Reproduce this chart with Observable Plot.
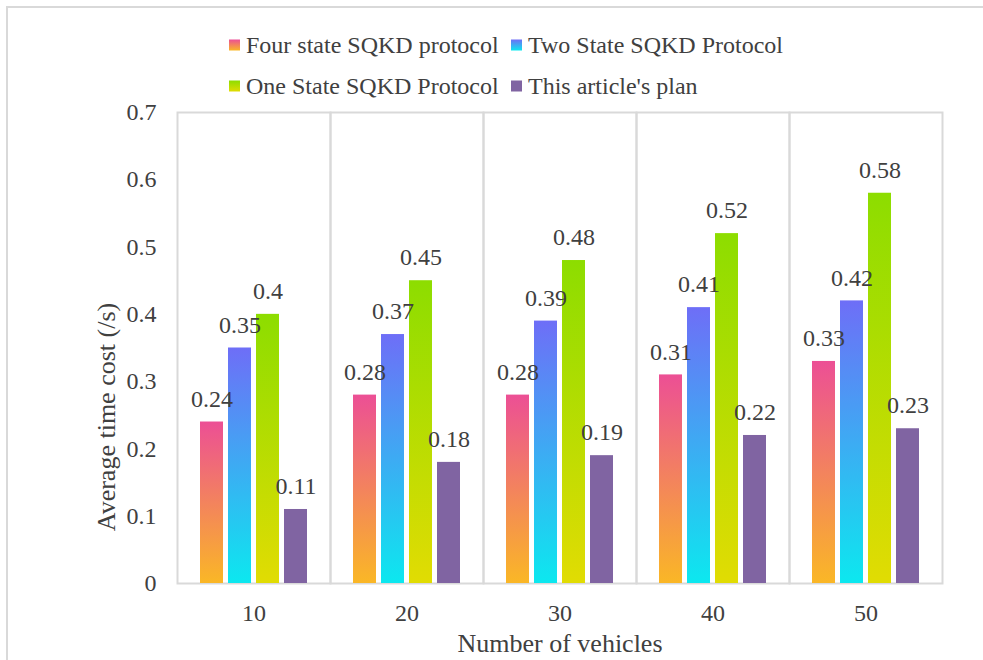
<!DOCTYPE html>
<html>
<head>
<meta charset="utf-8">
<script src="https://cdn.jsdelivr.net/npm/d3@7"></script>
<script src="https://cdn.jsdelivr.net/npm/@observablehq/plot@0.6"></script>
<style>
  html, body { margin: 0; padding: 0; background: #fff; }
  #wrap { position: relative; width: 983px; height: 660px; overflow: hidden; background: #fff;
          font-family: 'Liberation Serif', 'Times New Roman', serif; color: #404040; }
  #outer { position: absolute; left: 6px; top: 6px; right: -10px; bottom: -10px;
           border-left: 2px solid #d9d9d9; border-top: 2px solid #d9d9d9; pointer-events: none; }
  #legend { position: absolute; left: 0; top: 0; width: 983px; height: 100px; }
  .item { position: absolute; display: flex; align-items: center; font-size: 24px; white-space: nowrap;
          transform: translateY(-50%); }
  .sw { width: 11px; height: 11px; margin-right: 6px; }
  #chart { position: absolute; left: 0; top: 100px; }
  #ylab { position: absolute; left: 107px; top: 417px; font-size: 26px; white-space: nowrap;
          transform: translate(-50%, -50%) rotate(-90deg); }
  g[aria-label="fx-axis label"] text { font-size: 26px; }
</style>
</head>
<body>
<div id="wrap">
  <div id="legend"></div>
  <div id="chart"></div>
  <div id="ylab">Average time cost (/s)</div>
  <div id="outer"></div>
</div>
<script>
// ---- data ----
const categories = ["10", "20", "30", "40", "50"];
const seriesNames = ["Four state SQKD protocol", "Two State SQKD Protocol", "One State SQKD Protocol", "This article's plan"];
const fourState = [0.24, 0.28, 0.28, 0.31, 0.33];
const twoState  = [0.35, 0.37, 0.39, 0.41, 0.42];
const oneState  = [0.4, 0.45, 0.48, 0.52, 0.58];
const thisPlan  = [0.11, 0.18, 0.19, 0.22, 0.23];
const yTicks = [0, 0.1, 0.2, 0.3, 0.4, 0.5, 0.6, 0.7];
const xTitle = "Number of vehicles";

// ---- styles ----
const gradTop    = ["#ec4f95", "#6e6ef7", "#8ddd00", "#8064a2"];
const gradBottom = ["#fab726", "#0ce8ef", "#e1dc03", "#8064a2"];

const seriesValues = [fourState, twoState, oneState, thisPlan];
const rows = [];
categories.forEach((c, i) => {
  seriesNames.forEach((s, j) => {
    rows.push({cat: c, series: s, value: seriesValues[j][i], fill: `url(#grad${j})`});
  });
});

// legend
const legend = document.getElementById("legend");
const legendPos = [[229, 45], [511, 45], [229, 86], [511, 86]];
seriesNames.forEach((s, j) => {
  const it = document.createElement("div");
  it.className = "item";
  it.style.left = legendPos[j][0] + "px";
  it.style.top = legendPos[j][1] + "px";
  const sw = document.createElement("span");
  sw.className = "sw";
  sw.style.background = `linear-gradient(to bottom, ${gradTop[j]}, ${gradBottom[j]})`;
  const tx = document.createElement("span");
  tx.textContent = s;
  it.appendChild(sw); it.appendChild(tx);
  legend.appendChild(it);
});

const svg = Plot.plot({
  width: 983,
  height: 560,
  marginTop: 12,
  marginBottom: 77,
  marginLeft: 177,
  marginRight: 41,
  style: {fontFamily: "'Liberation Serif', 'Times New Roman', serif", fontSize: "24px", color: "#404040", background: "#fff"},
  fx: {domain: categories, padding: 0},
  x: {domain: seriesNames, paddingInner: 0.18, paddingOuter: 0.82, axis: null},
  y: {domain: [0, 0.7]},
  color: {type: "identity"},
  marks: [
    Plot.frame({stroke: "#d9d9d9", strokeWidth: 2}),
    Plot.barY(rows, {fx: "cat", x: "series", y: "value", fill: "fill"}),
    Plot.text(rows, {fx: "cat", x: "series", y: "value", text: d => String(d.value), dy: -23, fontSize: 24, fill: "#404040"}),
    Plot.axisY({ticks: yTicks, tickFormat: d => String(d), tickSize: 0, tickPadding: 21, fontSize: 24, label: null}),
    Plot.axisFx({anchor: "bottom", tickSize: 0, tickPadding: 20, fontSize: 24, label: xTitle, labelAnchor: "center", labelOffset: 68})
  ]
});

// gradients
const ns = "http://www.w3.org/2000/svg";
const defs = document.createElementNS(ns, "defs");
gradTop.forEach((t, j) => {
  const g = document.createElementNS(ns, "linearGradient");
  g.setAttribute("id", "grad" + j);
  g.setAttribute("x1", "0"); g.setAttribute("y1", "0");
  g.setAttribute("x2", "0"); g.setAttribute("y2", "1");
  const s1 = document.createElementNS(ns, "stop");
  s1.setAttribute("offset", "0"); s1.setAttribute("stop-color", t);
  const s2 = document.createElementNS(ns, "stop");
  s2.setAttribute("offset", "1"); s2.setAttribute("stop-color", gradBottom[j]);
  g.appendChild(s1); g.appendChild(s2);
  defs.appendChild(g);
});
svg.insertBefore(defs, svg.firstChild);
document.getElementById("chart").appendChild(svg);
</script>
</body>
</html>
